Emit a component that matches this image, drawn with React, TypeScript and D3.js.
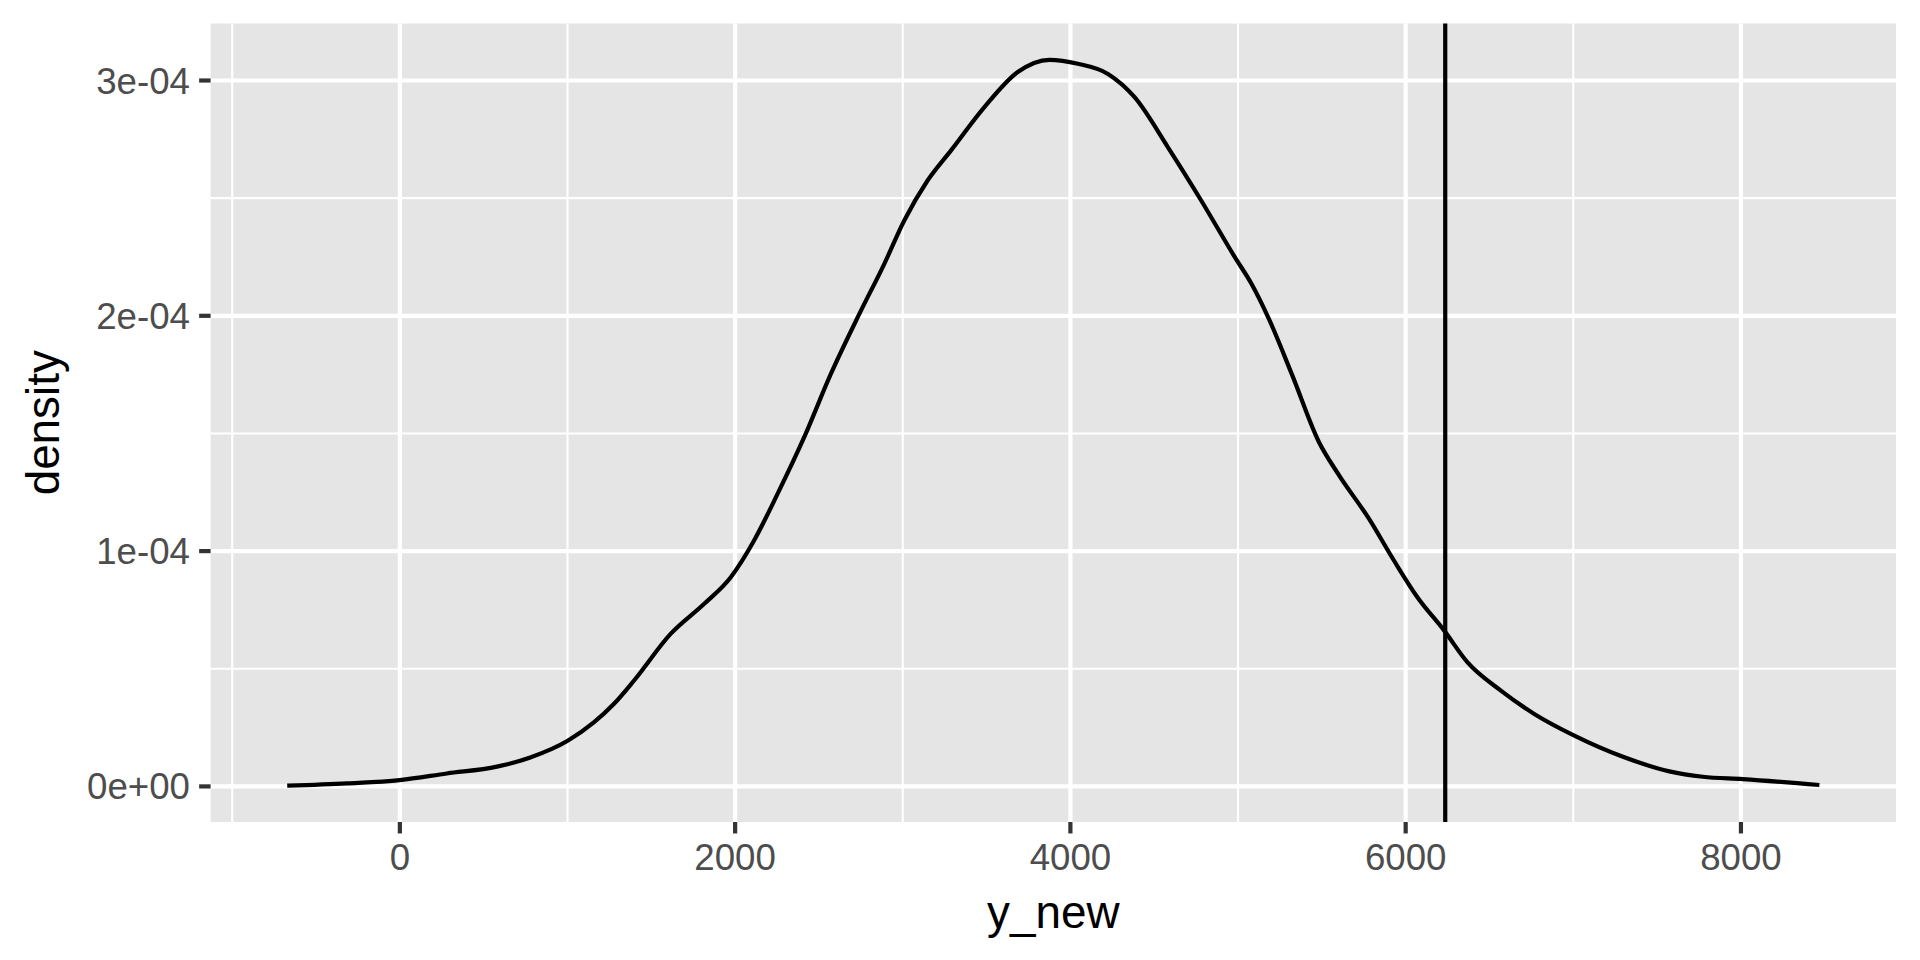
import React from "react";
import * as d3 from "d3";

// y_new values (x positions of the density estimate)
const yNew: number[] = [
  -672, -314, 0, 280, 579, 778, 1001, 1157, 1276, 1396, 1615, 1814, 1974, 2113,
  2253, 2412, 2571, 2741, 2890, 3009, 3148, 3288, 3487, 3686, 3875, 4045, 4224,
  4383, 4582, 4782, 4981, 5081, 5182, 5322, 5481, 5600, 5779, 5930, 6070, 6230,
  6368, 6568, 6767, 7006, 7300, 7573, 7772, 8011, 8468,
];
// density values in units of 1e-4
const densityE4: number[] = [
  0.003, 0.013, 0.027, 0.055, 0.084, 0.123, 0.194, 0.272, 0.35, 0.449, 0.648,
  0.775, 0.889, 1.045, 1.243, 1.484, 1.753, 2.008, 2.221, 2.405, 2.575, 2.703,
  2.887, 3.036, 3.088, 3.071, 3.028, 2.929, 2.716, 2.488, 2.249, 2.135, 1.99,
  1.75, 1.466, 1.325, 1.14, 0.96, 0.804, 0.662, 0.528, 0.407, 0.308, 0.216,
  0.125, 0.064, 0.041, 0.031, 0.006,
];
const vlineX = 6236;

const xMajorTicks: number[] = [0, 2000, 4000, 6000, 8000];
const xMinorTicks: number[] = [-1000, 1000, 3000, 5000, 7000];
const yMajorTicks: number[] = [0, 1e-4, 2e-4, 3e-4];
const yMajorLabels: string[] = ["0e+00", "1e-04", "2e-04", "3e-04"];
const yMinorTicks: number[] = [0.5e-4, 1.5e-4, 2.5e-4];

const xTitle = "y_new";
const yTitle = "density";

export default function App() {
  const W = 1920;
  const H = 960;
  const left = 210.6;
  const right = 1896;
  const top = 23.5;
  const bottom = 822;

  const pts = yNew.map((x, i) => ({ x, y: densityE4[i] * 1e-4 }));
  const xExt = d3.extent(yNew) as [number, number];
  const xPad = (xExt[1] - xExt[0]) * 0.05;
  const yExt = d3.extent(pts, (d) => d.y) as [number, number];
  const yPad = (yExt[1] - yExt[0]) * 0.05;

  const x = d3.scaleLinear().domain([xExt[0] - xPad, xExt[1] + xPad]).range([left, right]);
  const y = d3.scaleLinear().domain([yExt[0] - yPad, yExt[1] + yPad]).range([bottom, top]);

  const line = d3
    .line<{ x: number; y: number }>()
    .x((d) => x(d.x))
    .y((d) => y(d.y))
    .curve(d3.curveMonotoneX);

  const font = "'Liberation Sans', Arial, Helvetica, sans-serif";
  const tickLen = 11.46;
  const majorW = 4.2;
  const minorW = 2.1;

  return (
    <svg
      width={W}
      height={H}
      style={{ position: "absolute", left: 0, top: 0, display: "block", background: "#FFFFFF" }}
    >
      <rect x={0} y={0} width={W} height={H} fill="#FFFFFF" />
      <rect x={left} y={top} width={right - left} height={bottom - top} fill="#E5E5E5" />
      {/* minor grid */}
      {xMinorTicks.map((t) => (
        <line key={"xm" + t} x1={x(t)} x2={x(t)} y1={top} y2={bottom} stroke="#FFFFFF" strokeWidth={minorW} />
      ))}
      {yMinorTicks.map((t) => (
        <line key={"ym" + t} x1={left} x2={right} y1={y(t)} y2={y(t)} stroke="#FFFFFF" strokeWidth={minorW} />
      ))}
      {/* major grid */}
      {xMajorTicks.map((t) => (
        <line key={"xM" + t} x1={x(t)} x2={x(t)} y1={top} y2={bottom} stroke="#FFFFFF" strokeWidth={majorW} />
      ))}
      {yMajorTicks.map((t) => (
        <line key={"yM" + t} x1={left} x2={right} y1={y(t)} y2={y(t)} stroke="#FFFFFF" strokeWidth={majorW} />
      ))}
      {/* density curve */}
      <path d={line(pts) || ""} fill="none" stroke="#000000" strokeWidth={4.2} strokeLinejoin="round" />
      {/* vline */}
      <line x1={x(vlineX)} x2={x(vlineX)} y1={top} y2={bottom} stroke="#000000" strokeWidth={4.2} />
      {/* x axis ticks */}
      {xMajorTicks.map((t) => (
        <g key={"xt" + t}>
          <line x1={x(t)} x2={x(t)} y1={bottom} y2={bottom + tickLen} stroke="#333333" strokeWidth={4.2} />
          <text
            x={x(t)}
            y={bottom + tickLen + 9.17 + 27.5}
            textAnchor="middle"
            fontFamily={font}
            fontSize={36.67}
            fill="#4D4D4D"
          >
            {String(t)}
          </text>
        </g>
      ))}
      {/* y axis ticks */}
      {yMajorTicks.map((t, i) => (
        <g key={"yt" + t}>
          <line x1={left - tickLen} x2={left} y1={y(t)} y2={y(t)} stroke="#333333" strokeWidth={4.2} />
          <text
            x={left - tickLen - 9.17}
            y={y(t) + 13}
            textAnchor="end"
            fontFamily={font}
            fontSize={36.67}
            fill="#4D4D4D"
          >
            {yMajorLabels[i]}
          </text>
        </g>
      ))}
      {/* axis titles */}
      <text
        x={(left + right) / 2}
        y={927.5}
        textAnchor="middle"
        fontFamily={font}
        fontSize={45.83}
        fill="#000000"
      >
        {xTitle}
      </text>
      <text
        transform={`translate(59, ${(top + bottom) / 2}) rotate(-90)`}
        textAnchor="middle"
        fontFamily={font}
        fontSize={45.83}
        fill="#000000"
      >
        {yTitle}
      </text>
    </svg>
  );
}
